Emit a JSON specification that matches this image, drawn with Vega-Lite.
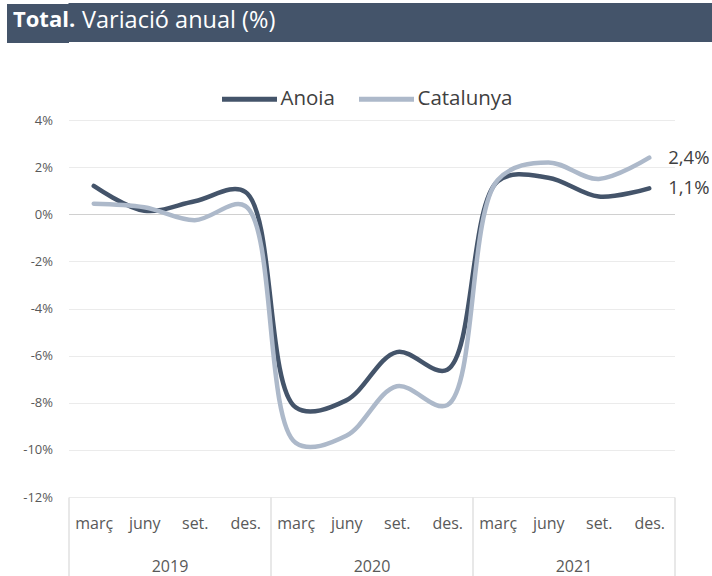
{
  "$schema": "https://vega.github.io/schema/vega-lite/v6.json",
  "padding": {"left": -13.5, "top": 3, "right": 0, "bottom": 0},
  "background": "white",
  "config": {"font": "Open Sans", "view": {"stroke": null}},
  "columns": 1,
  "spacing": 71,
  "datasets": {
    "series": [
      {"period": "març 2019", "year": 2019, "region": "Anoia", "value": 1.2},
      {"period": "juny 2019", "year": 2019, "region": "Anoia", "value": 0.15},
      {"period": "set. 2019", "year": 2019, "region": "Anoia", "value": 0.55},
      {"period": "des. 2019", "year": 2019, "region": "Anoia", "value": 0.95},
      {"period": "març 2020", "year": 2020, "region": "Anoia", "value": -8.2},
      {"period": "juny 2020", "year": 2020, "region": "Anoia", "value": -7.9},
      {"period": "set. 2020", "year": 2020, "region": "Anoia", "value": -5.85},
      {"period": "des. 2020", "year": 2020, "region": "Anoia", "value": -6.6},
      {"period": "març 2021", "year": 2021, "region": "Anoia", "value": 1.4},
      {"period": "juny 2021", "year": 2021, "region": "Anoia", "value": 1.55},
      {"period": "set. 2021", "year": 2021, "region": "Anoia", "value": 0.75},
      {"period": "des. 2021", "year": 2021, "region": "Anoia", "value": 1.1},
      {"period": "març 2019", "year": 2019, "region": "Catalunya", "value": 0.45},
      {"period": "juny 2019", "year": 2019, "region": "Catalunya", "value": 0.3},
      {"period": "set. 2019", "year": 2019, "region": "Catalunya", "value": -0.25},
      {"period": "des. 2019", "year": 2019, "region": "Catalunya", "value": 0.35},
      {"period": "març 2020", "year": 2020, "region": "Catalunya", "value": -9.7},
      {"period": "juny 2020", "year": 2020, "region": "Catalunya", "value": -9.4},
      {"period": "set. 2020", "year": 2020, "region": "Catalunya", "value": -7.3},
      {"period": "des. 2020", "year": 2020, "region": "Catalunya", "value": -8.1},
      {"period": "març 2021", "year": 2021, "region": "Catalunya", "value": 1.45},
      {"period": "juny 2021", "year": 2021, "region": "Catalunya", "value": 2.2},
      {"period": "set. 2021", "year": 2021, "region": "Catalunya", "value": 1.5},
      {"period": "des. 2021", "year": 2021, "region": "Catalunya", "value": 2.4}
    ]
  },
  "concat": [
    {
      "width": 644,
      "height": 39,
      "view": {"fill": "#44546A", "stroke": null},
      "data": {"values": [{"pos": 0.5, "xp": 0}]},
      "mark": {"type": "point", "opacity": 0},
      "encoding": {
        "x": {
          "field": "xp", "type": "quantitative", "scale": {"domain": [0, 1], "nice": false, "zero": false},
          "axis": {"orient": "top", "title": null, "values": [0], "labelExpr": "'Variació anual (%)'", "domain": false, "grid": false,
                   "ticks": false, "labelAlign": "left", "labelBaseline": "alphabetic", "labelPadding": -24, "labelOffset": 13,
                   "labelFlush": false, "labelFontSize": 23.5, "labelFontWeight": "normal", "labelColor": "white", "labelLimit": 500,
                   "minExtent": 0, "maxExtent": 0, "labelOverlap": false}
        },
        "y": {
          "field": "pos", "type": "quantitative", "scale": {"domain": [0, 1], "nice": false, "zero": false},
          "axis": {"title": null, "values": [0.5], "labelExpr": "'Total.'", "domain": false, "grid": false,
                   "ticks": true, "tickSize": 62, "tickWidth": 39, "tickColor": "#44546A", "tickCap": "butt",
                   "labelAlign": "left", "labelBaseline": "alphabetic", "labelOffset": 3.5, "labelPadding": -6,
                   "labelFontSize": 22, "labelFontWeight": "bold", "labelColor": "white", "labelLimit": 200,
                   "minExtent": 62, "maxExtent": 62}
        }
      }
    },
    {
      "width": 606,
      "height": 377,
      "data": {"name": "series"},
      "layer": [
        {
          "layer": [
            {
              "mark": {"type": "line", "interpolate": "catmull-rom", "strokeWidth": 4.5, "strokeCap": "round", "strokeJoin": "round"},
              "encoding": {
                "x": {
                  "field": "period", "type": "ordinal", "sort": null,
                  "scale": {"type": "point", "padding": 0.5},
                  "axis": {"orient": "bottom", "title": null, "ticks": false, "domain": false, "grid": false, "labelAngle": 0,
                           "labelExpr": "split(datum.label, ' ')[0]", "labelFontSize": 16, "labelColor": "#595959", "labelPadding": 18}
                },
                "y": {
                  "field": "value", "type": "quantitative",
                  "scale": {"domain": [-12, 4], "nice": false, "zero": false},
                  "axis": {"title": null, "values": [-12, -10, -8, -6, -4, -2, 0, 2, 4], "labelExpr": "datum.value + '%'",
                           "domain": false, "ticks": false, "labelPadding": 16, "minExtent": 62, "maxExtent": 62,
                           "labelFontSize": 13, "labelColor": "#595959",
                           "gridColor": {"condition": {"test": "datum.value === 0", "value": "#D0D0D0"}, "value": "#EBEBEB"},
                           "gridWidth": 1.2}
                },
                "color": {
                  "field": "region", "type": "nominal",
                  "scale": {"domain": ["Anoia", "Catalunya"], "range": ["#44546A", "#ADB9CA"]},
                  "legend": {"orient": "none", "legendX": 151, "legendY": 66, "direction": "horizontal", "title": null,
                             "symbolType": "stroke", "symbolSize": 3025, "symbolStrokeWidth": 5,
                             "labelFontSize": 20.5, "labelColor": "#404040", "columnPadding": 13, "labelOffset": 1}
                }
              }
            },
            {
              "transform": [
                {"filter": "datum.period === 'des. 2021'"},
                {"calculate": "replace(format(datum.value, '.1f'), '.', ',') + '%'", "as": "label"}
              ],
              "mark": {"type": "text", "align": "left", "baseline": "middle", "dx": 19, "fontSize": 18.5, "color": "#404040"},
              "encoding": {
                "x": {"field": "period", "type": "ordinal", "sort": null},
                "y": {"field": "value", "type": "quantitative"},
                "text": {"field": "label"}
              }
            }
          ]
        },
        {
          "mark": {"type": "rule", "opacity": 0},
          "encoding": {
            "x": {
              "field": "year", "type": "ordinal",
              "scale": {"type": "band", "paddingInner": 0, "paddingOuter": 0},
              "axis": {"orient": "bottom", "title": null, "tickBand": "extent", "tickSize": 79, "tickColor": "#D9D9D9", "tickWidth": 1.2,
                       "domain": false, "grid": false, "labelAngle": 0, "labelFontSize": 16, "labelColor": "#595959", "labelPadding": -18}
            }
          }
        }
      ],
      "resolve": {"scale": {"x": "independent"}, "axis": {"x": "independent"}}
    }
  ]
}
